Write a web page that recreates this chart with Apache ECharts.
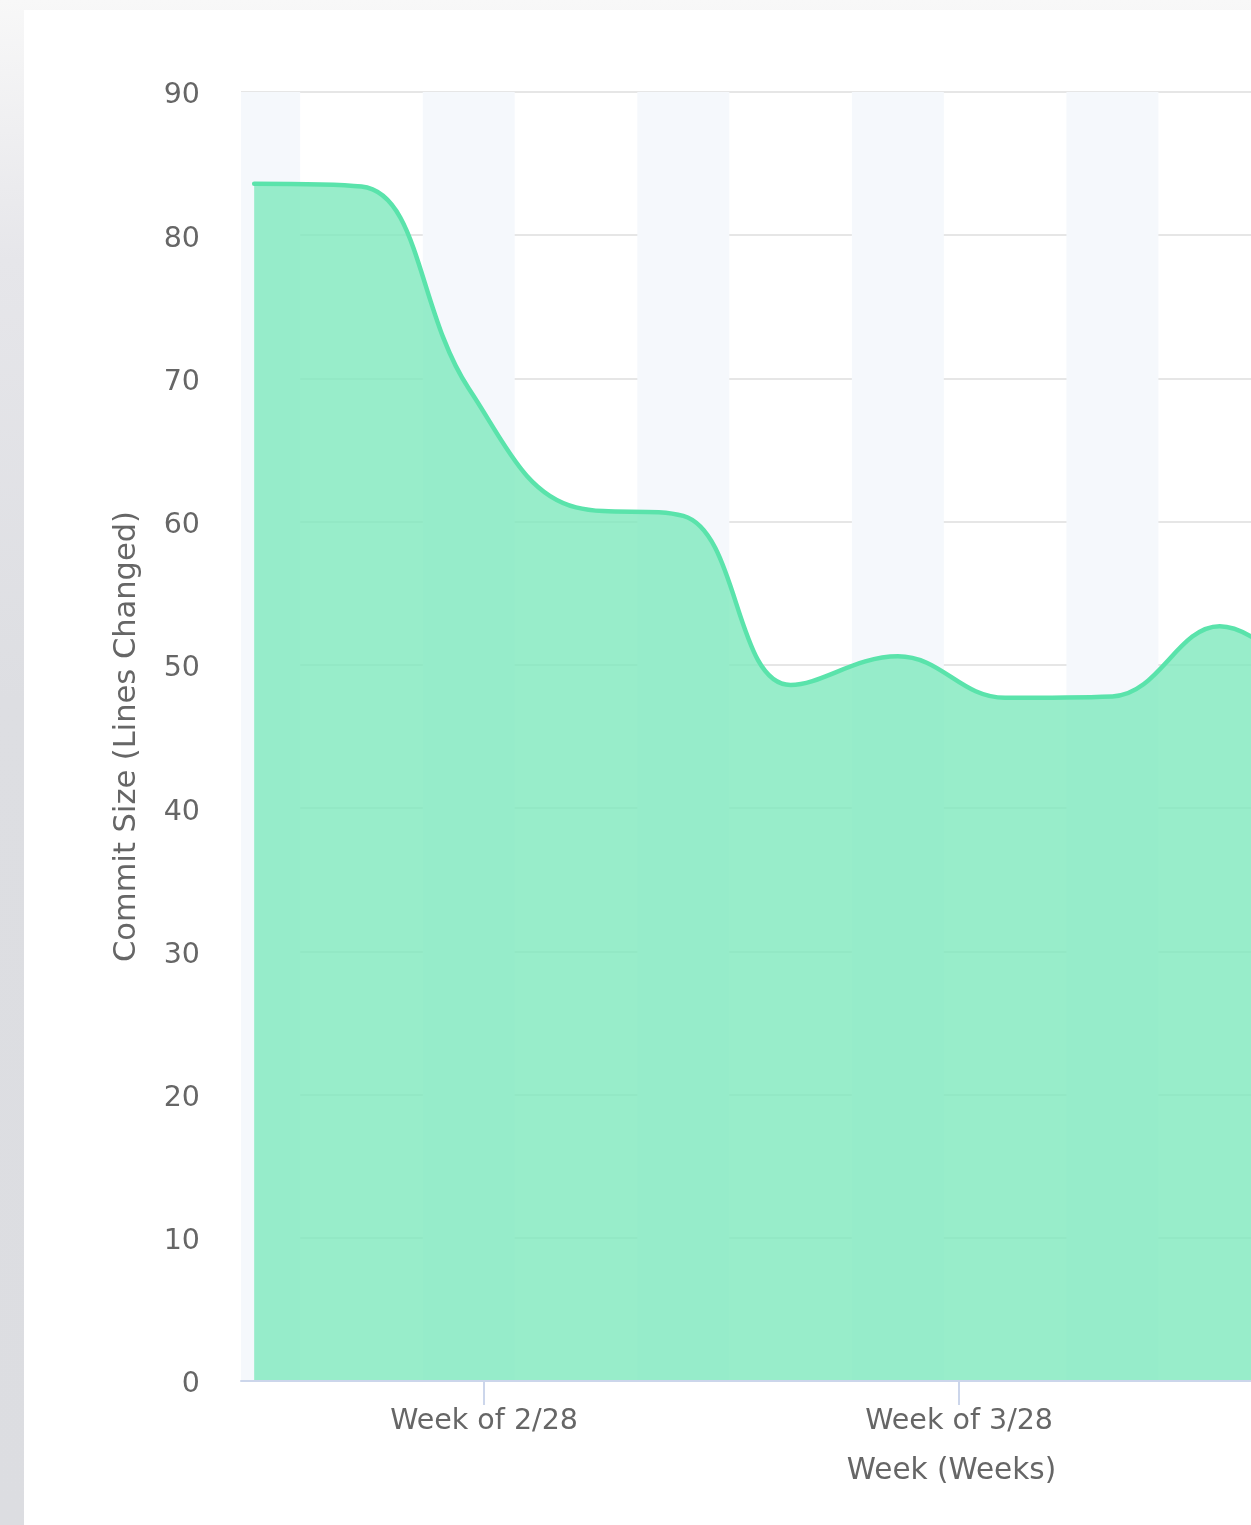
<!DOCTYPE html>
<html>
<head>
<meta charset="utf-8">
<title>Commit Size</title>
<script src="https://cdn.jsdelivr.net/npm/echarts@6/dist/echarts.min.js"></script>
<style>
  html, body {
    margin: 0;
    padding: 0;
    width: 1251px;
    height: 1525px;
    overflow: hidden;
    background: linear-gradient(to bottom, #f8f8f8 0px, #e6e6ea 260px, #dddee2 700px, #dcdde1 1525px);
  }
  #card {
    position: absolute;
    left: 24px;
    top: 10px;
    width: 1700px;
    height: 1560px;
    background: #ffffff;
  }
</style>
</head>
<body>
<div id="card"></div>
<script>
// Weekly average commit size (week start dates)
const weeks = ['2021-02-14', '2021-02-21', '2021-02-28', '2021-03-07', '2021-03-14',
               '2021-03-21', '2021-03-28', '2021-04-04', '2021-04-11', '2021-04-18',
               '2021-04-25'];
const commitSize = [83.6, 83.4, 69.3, 61.0, 60.4, 48.6, 50.6, 47.7, 47.8, 52.7, 47.0];

// Month ticks on the time axis and their labels
const tickDates = ['2021-03-01', '2021-04-01'];
const tickLabels = ['Week of 2/28', 'Week of 3/28'];

// Alternate weeks get a light background band
const bandWeeks = ['2021-02-14', '2021-02-28', '2021-03-14', '2021-03-28', '2021-04-11'];

const DAY = 86400000;
const origin = Date.UTC(2021, 1, 14);
function dayOf(s) {
  const p = s.split('-').map(Number);
  return (Date.UTC(p[0], p[1] - 1, p[2]) - origin) / DAY;
}

const tickDays = tickDates.map(dayOf);
const seriesData = weeks.map((w, i) => [dayOf(w), commitSize[i]]);
const bands = bandWeeks.map(w => [{ xAxis: dayOf(w) - 3 }, { xAxis: dayOf(w) + 3 }]);

const FONT = 'DejaVu Sans';
const TEXT = '#666666';

const chart = echarts.init(document.getElementById('card'), null, { renderer: 'canvas' });
chart.setOption({
  animation: false,
  backgroundColor: '#ffffff',
  textStyle: { fontFamily: FONT },
  grid: { left: 217, top: 82, right: 62, bottom: 189, containLabel: false },
  xAxis: {
    type: 'value',
    min: -0.86,
    max: 91.86,
    z: 3,
    name: 'Week (Weeks)',
    nameLocation: 'middle',
    nameGap: 75,
    nameTextStyle: { color: TEXT, fontSize: 29.5, fontFamily: FONT },
    axisLine: { show: true, lineStyle: { color: '#ccd6eb', width: 2 } },
    axisTick: { show: true, length: 24, lineStyle: { color: '#ccd6eb', width: 2 }, customValues: tickDays },
    axisLabel: {
      color: TEXT, fontSize: 28.5, fontFamily: FONT, margin: 26,
      customValues: tickDays,
      formatter: v => tickLabels[tickDays.indexOf(Math.round(v))] || ''
    },
    splitLine: { show: false }
  },
  yAxis: {
    type: 'value',
    min: 0,
    max: 90,
    interval: 10,
    z: 1,
    name: 'Commit Size (Lines Changed)',
    nameLocation: 'middle',
    nameGap: 98,
    nameTextStyle: { color: TEXT, fontSize: 30.5, fontFamily: FONT },
    axisLine: { show: false },
    axisTick: { show: false },
    axisLabel: {
      color: TEXT, fontSize: 28.5, fontFamily: FONT, margin: 41,
      formatter: '{v|{value}}',
      rich: { v: { color: TEXT, fontSize: 28.5, fontFamily: FONT, padding: [8, 0, 0, 0] } }
    },
    splitLine: { show: true, lineStyle: { color: '#e6e6e6', width: 2 } }
  },
  series: [
    {
      name: 'bands',
      type: 'line',
      z: 0,
      data: [],
      silent: true,
      markArea: {
        silent: true,
        itemStyle: { color: '#f5f8fc' },
        data: bands
      }
    },
    {
      name: 'Commit Size',
      type: 'line',
      z: 2,
      data: seriesData,
      smooth: 0.4,
      showSymbol: false,
      lineStyle: { color: '#5ae3ab', width: 4.5, cap: 'round', join: 'round' },
      areaStyle: { color: '#7ee8bd', opacity: 0.8, origin: 'start' }
    }
  ]
});
</script>
</body>
</html>
